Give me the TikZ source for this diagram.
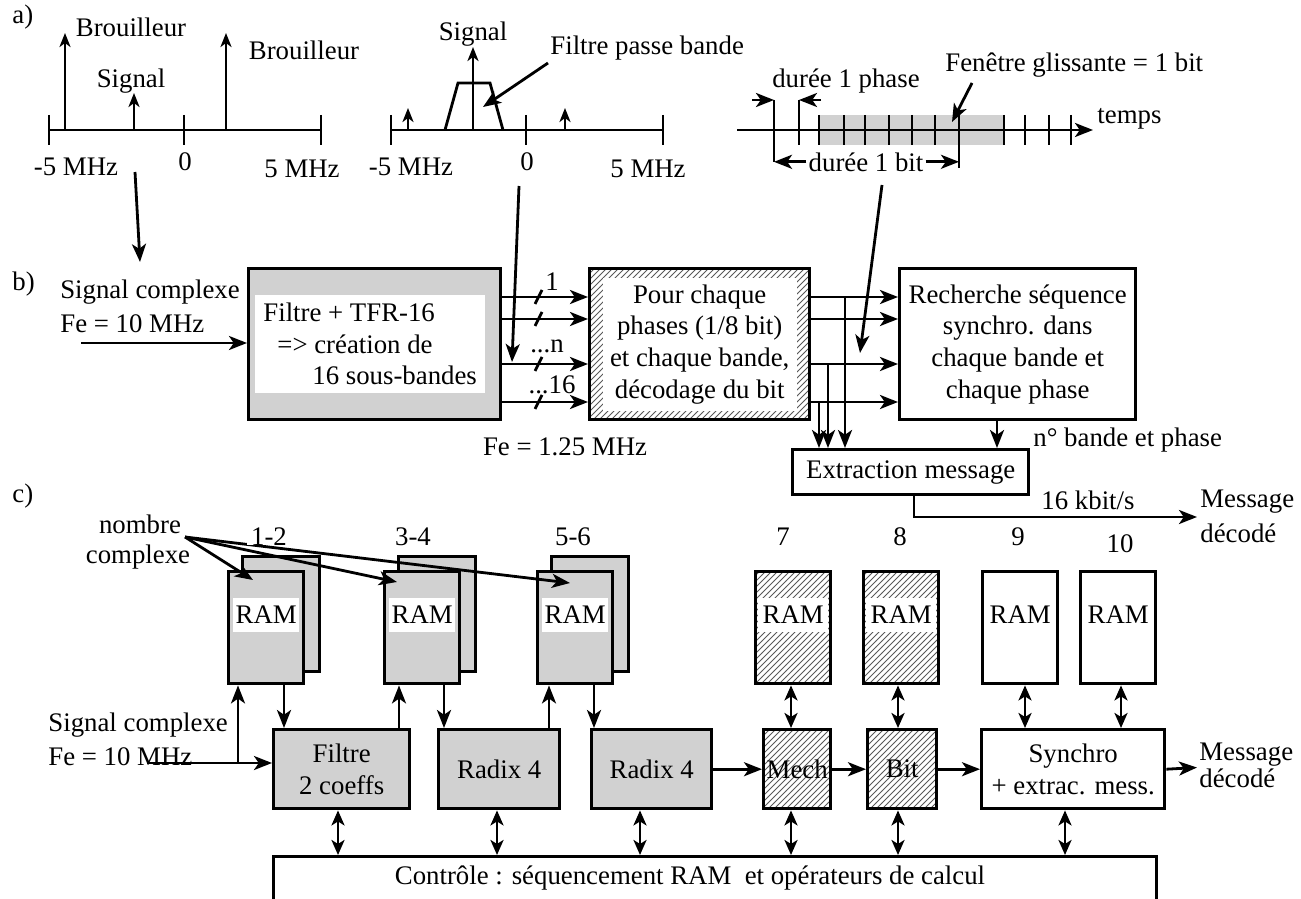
\documentclass[tikz,border=0pt]{standalone}
\usepackage{fontspec}
\setmainfont{Liberation Serif}
\usetikzlibrary{arrows.meta,patterns}
\newcommand{\fs}{\fontsize{13.4}{15.8}\selectfont}
\begin{document}
\begin{tikzpicture}[x=0.5pt,y=-0.5pt,
  ln/.style={line width=1.4pt},
  arr/.style={ln,-{Stealth[length=9pt,width=7pt,inset=2.4pt]}},
  sarr/.style={ln,-{Stealth[length=7pt,width=5.5pt,inset=2pt]}},
  dbl/.style={ln,{Stealth[length=7.5pt,width=6.5pt,inset=2pt]}-{Stealth[length=7.5pt,width=6.5pt,inset=2pt]}},
  box/.style={draw,line width=1.7pt,rectangle,inner sep=0pt},
  dotsbox/.style={box,fill=black!18},
  hatchbox/.style={box,pattern=north east lines,pattern color=black!65},
  plainbox/.style={box,fill=white},
  sz/.style 2 args={minimum width=#1*0.5pt,minimum height=#2*0.5pt},
  lbl/.style={font=\fs,inner sep=0pt},
]
\useasboundingbox (0,0) rectangle (1301,899);

% ================= a) =================
\node[lbl,anchor=base west] (la) at (12,24) {a)};
% spectrum 1
\draw[ln] (49,130) -- (321,130);
\foreach \x in {49,184,321} \draw[ln] (\x,115) -- (\x,145);
\draw[sarr] (65,130) -- (65,33);
\draw[sarr] (134,130) -- (134,93);
\draw[sarr] (226,130) -- (226,33);
\node[lbl,anchor=base] (br1) at (131,37) {Brouilleur};
\node[lbl,anchor=base] (sg1) at (131,88) {Signal};
\node[lbl,anchor=base] (br2) at (304,60) {Brouilleur};
\node[lbl,anchor=base] (m5a) at (76,176) {-5 MHz};
\node[lbl,anchor=base] (z1) at (185,170) {0};
\node[lbl,anchor=base] (p5a) at (302,177) {5 MHz};
% spectrum 2
\draw[ln] (391,130) -- (663,130);
\foreach \x in {391,526,663} \draw[ln] (\x,115) -- (\x,145);
\draw[sarr] (408,130) -- (408,108);
\draw[sarr] (565,130) -- (565,108);
\draw[sarr] (473,130) -- (473,47);
\draw[ln] (445,130) -- (458,83) -- (490,83) -- (503,130);
\node[lbl,anchor=base] (sg2) at (473,41) {Signal};
\node[lbl,anchor=base west] (fpb) at (550,55) {Filtre passe bande};
\coordinate (fpbs) at (548,63);
\coordinate (fpbe) at (483,107);
\draw[arr] (fpbs) -- (fpbe);
\node[lbl,anchor=base] (m5b) at (411,176) {-5 MHz};
\node[lbl,anchor=base] (z2) at (527,170) {0};
\node[lbl,anchor=base] (p5b) at (648,177) {5 MHz};
% time axis
\fill[black!18] (820,115) rectangle (1004,145);
\draw[arr] (737,130) -- (1093,130);
\foreach \x in {819,844,865,889,912,935,1004,1025,1049,1071} \draw[ln] (\x,115) -- (\x,145);
\coordinate (t1) at (774,162);
\coordinate (t9) at (959,168);
\draw[ln] (774,100) -- (t1);
\draw[ln] (799,100) -- (799,145);
\draw[ln] (959,115) -- (t9);
\draw[arr] (752,100) -- (774,100);
\draw[arr] (821,100) -- (799,100);
\node[lbl,anchor=base] (dph) at (846,88) {durée 1 phase};
\node[lbl,anchor=base,fill=white,inner xsep=1pt] (d1b) at (866,171) {durée 1 bit};
\draw[arr] (d1b.west) -- (d1b.west -| t1);
\draw[arr] (d1b.east) -- (d1b.east -| t9);
\node[lbl,anchor=base west] (fen) at (945,72) {Fenêtre glissante = 1 bit};
\coordinate (fens) at (972,83);
\coordinate (fene) at (952,122);
\draw[arr] (fens) -- (fene);
\node[lbl,anchor=base west] (tps) at (1097,124) {temps};
% connectors a -> b
\coordinate (ca1) at (135,172); \coordinate (ca2) at (140,262);
\draw[arr] (ca1) -- (ca2);
\coordinate (cb1) at (519,186); \coordinate (cb2) at (512,362);
\draw[arr] (cb1) -- (cb2);
\coordinate (cc1) at (882,185); \coordinate (cc2) at (860,353);
\draw[arr] (cc1) -- (cc2);

% ================= b) =================
\node[lbl,anchor=base west] (lb) at (12,290) {b)};
\node[lbl,anchor=base] (scb) at (150,298) {Signal complexe};
\node[lbl,anchor=base west] (feb) at (60,332) {Fe = 10 MHz};
\node[dotsbox,sz={252}{151},anchor=north west] (b1) at (247,267) {};
\node[lbl,fill=white,align=left,inner sep=4pt,anchor=west] (b1t) at (255,344)
  {Filtre + TFR-16\\\hspace*{7pt}=> création de\\\hspace*{24.5pt}16 sous-bandes};
\coordinate (inb) at (81,343);
\draw[arr] (inb) -- (b1.west |- inb);
\node[hatchbox,sz={220}{151},anchor=north west] (b2) at (588,267) {};
\node[lbl,fill=white,sz={194}{133},align=center] (b2t) at (b2.center)
  {Pour chaque\\phases (1/8 bit)\\et chaque bande,\\décodage du bit};
\node[plainbox,sz={236}{151},anchor=north west,align=center,font=\fs] (b3) at (898,267)
  {Recherche séquence\\synchro. dans\\chaque bande et\\chaque phase};
\node[plainbox,sz={236}{45},anchor=north west,font=\fs] (ext) at (791,448) {Extraction message};
\foreach \y in {297,319,364,402} {
  \draw[arr] (b1.east |- 0,\y) -- (b2.west |- 0,\y);
  \draw[ln] (535,\y+7) -- (542,\y-7);
  \draw[arr] (b2.east |- 0,\y) -- (b3.west |- 0,\y);
}
\node[lbl,anchor=base] (n1) at (552,290) {1};
\node[lbl,anchor=base] (nn) at (547,352) {...n};
\node[lbl,anchor=base] (n16) at (552,393) {...16};
\node[lbl,anchor=base] (fe125) at (565,455) {Fe = 1.25 MHz};
\draw[arr] (845,297) -- (ext.north -| 845,0);
\draw[arr] (828,364) -- (ext.north -| 828,0);
\draw[arr] (819,402) -- (ext.north -| 819,0);
\draw[arr] (b3.south -| 997,0) -- (ext.north -| 997,0);
\node[lbl,anchor=base west] (nbp) at (1033,446) {n° bande et phase};
\coordinate (msgb) at (1197,517);
\draw[arr] (ext.south -| 914,0) -- (914,517) -- (msgb);
\node[lbl,anchor=base] (kbs) at (1088,509) {16 kbit/s};
\node[lbl,anchor=base west] (mb1) at (1200,507) {Message};
\node[lbl,anchor=base west] (mb2) at (1200,542) {décodé};

% ================= c) =================
\node[lbl,anchor=base west] (lc) at (12,502) {c)};
\node[lbl,anchor=base] (nomb) at (140,533) {nombre};
\node[lbl,anchor=base] (cplx) at (138,563) {complexe};
\foreach \x/\n in {241/1,397/2,550/3}
  \node[dotsbox,sz={77}{115},anchor=north west] (rb\n) at (\x,555) {};
\foreach \x/\n in {227/1,383/2,536/3}
  \node[dotsbox,sz={75}{112},anchor=north west] (rf\n) at (\x,570) {};
\foreach \x/\n in {754/4,862/5}
  \node[hatchbox,sz={75}{112},anchor=north west] (rf\n) at (\x,570) {};
\foreach \x/\n in {981/6,1079/7}
  \node[plainbox,sz={75}{112},anchor=north west] (rf\n) at (\x,570) {};
\foreach \n in {1,2,3}
  \node[lbl,fill=white,sz={66}{34}] (rt\n) at (rf\n.center |- 0,615) {RAM};
\foreach \n in {4,5}
  \node[lbl,fill=white,sz={70}{34}] (rt\n) at (rf\n.center |- 0,615) {RAM};
\foreach \n in {6,7}
  \node[lbl] (rt\n) at (rf\n.center |- 0,615) {RAM};
\coordinate (nc) at (185,537);
\coordinate (nc1) at (253,580);
\coordinate (nc2) at (397,582);
\coordinate (nc3) at (570,583);
\draw[arr] (nc) -- (nc1);
\draw[arr] (nc) -- (nc2);
\draw[arr] (nc) -- (nc3);
\node[lbl,anchor=base,fill=white,inner xsep=2pt] (l12) at (269,545) {1-2};
\node[lbl,anchor=base] (l34) at (413,545) {3-4};
\node[lbl,anchor=base] (l56) at (573,545) {5-6};
\node[lbl,anchor=base] (l7) at (783,545) {7};
\node[lbl,anchor=base] (l8) at (900,545) {8};
\node[lbl,anchor=base] (l9) at (1018,545) {9};
\node[lbl,anchor=base] (l10) at (1120,552) {10};
% operators
\node[dotsbox,sz={136}{79},anchor=north west,align=center,font=\fs] (filt) at (272,728) {Filtre\\2 coeffs};
\node[dotsbox,sz={121}{79},anchor=north west,font=\fs] (rad1) at (437,728) {Radix 4};
\node[dotsbox,sz={120}{79},anchor=north west,font=\fs] (rad2) at (590,728) {Radix 4};
\node[hatchbox,sz={67}{79},anchor=north west,font=\fs] (mech) at (762,728) {Mech};
\node[hatchbox,sz={69}{79},anchor=north west,font=\fs] (bitb) at (866,728) {Bit};
\node[plainbox,sz={183}{79},anchor=north west,align=center,font=\fs] (sync) at (980,728) {Synchro\\+ extrac. mess.};
\node[lbl,anchor=base west] (scc) at (48,731) {Signal complexe};
\node[lbl,anchor=base west] (fec) at (48,765) {Fe = 10 MHz};
\coordinate (inc) at (147,763);
\draw[arr] (inc) -- (filt.west |- inc);
\draw[arr] (238,763) -- (rf1.south -| 238,0);
\draw[arr] (rf1.south -| 284,0) -- (filt.north -| 284,0);
\draw[arr] (filt.north -| 399,0) -- (rf2.south -| 399,0);
\draw[arr] (rf2.south -| 444,0) -- (rad1.north -| 444,0);
\draw[arr] (rad1.north -| 549,0) -- (rf3.south -| 549,0);
\draw[arr] (rf3.south -| 594,0) -- (rad2.north -| 594,0);
\draw[arr] (rad2.east) -- (mech.west);
\draw[arr] (mech.east) -- (bitb.west);
\draw[arr] (bitb.east) -- (sync.west);
\coordinate (msgc) at (1197,767.5);
\draw[arr] (sync.east) -- (msgc);
\node[lbl,anchor=base west] (mc1) at (1199,760) {Message};
\node[lbl,anchor=base west] (mc2) at (1199,787) {décodé};
\draw[dbl] (rf4.south -| 791,0) -- (mech.north -| 791,0);
\draw[dbl] (rf5.south -| 898,0) -- (bitb.north -| 898,0);
\draw[dbl] (rf6.south -| 1025,0) -- (sync.north -| 1025,0);
\draw[dbl] (rf7.south -| 1121,0) -- (sync.north -| 1121,0);
% control
\node[box,sz={883}{80},anchor=north west] (ctl) at (272,855) {};
\node[lbl,anchor=base] (ctlt) at (690,884) {Contrôle : séquencement RAM\ \ et opérateurs de calcul};
\draw[dbl] (filt.south -| 338,0) -- (ctl.north -| 338,0);
\draw[dbl] (rad1.south -| 497,0) -- (ctl.north -| 497,0);
\draw[dbl] (rad2.south -| 640,0) -- (ctl.north -| 640,0);
\draw[dbl] (mech.south -| 791,0) -- (ctl.north -| 791,0);
\draw[dbl] (bitb.south -| 898,0) -- (ctl.north -| 898,0);
\draw[dbl] (sync.south -| 1065,0) -- (ctl.north -| 1065,0);
\end{tikzpicture}
\end{document}
